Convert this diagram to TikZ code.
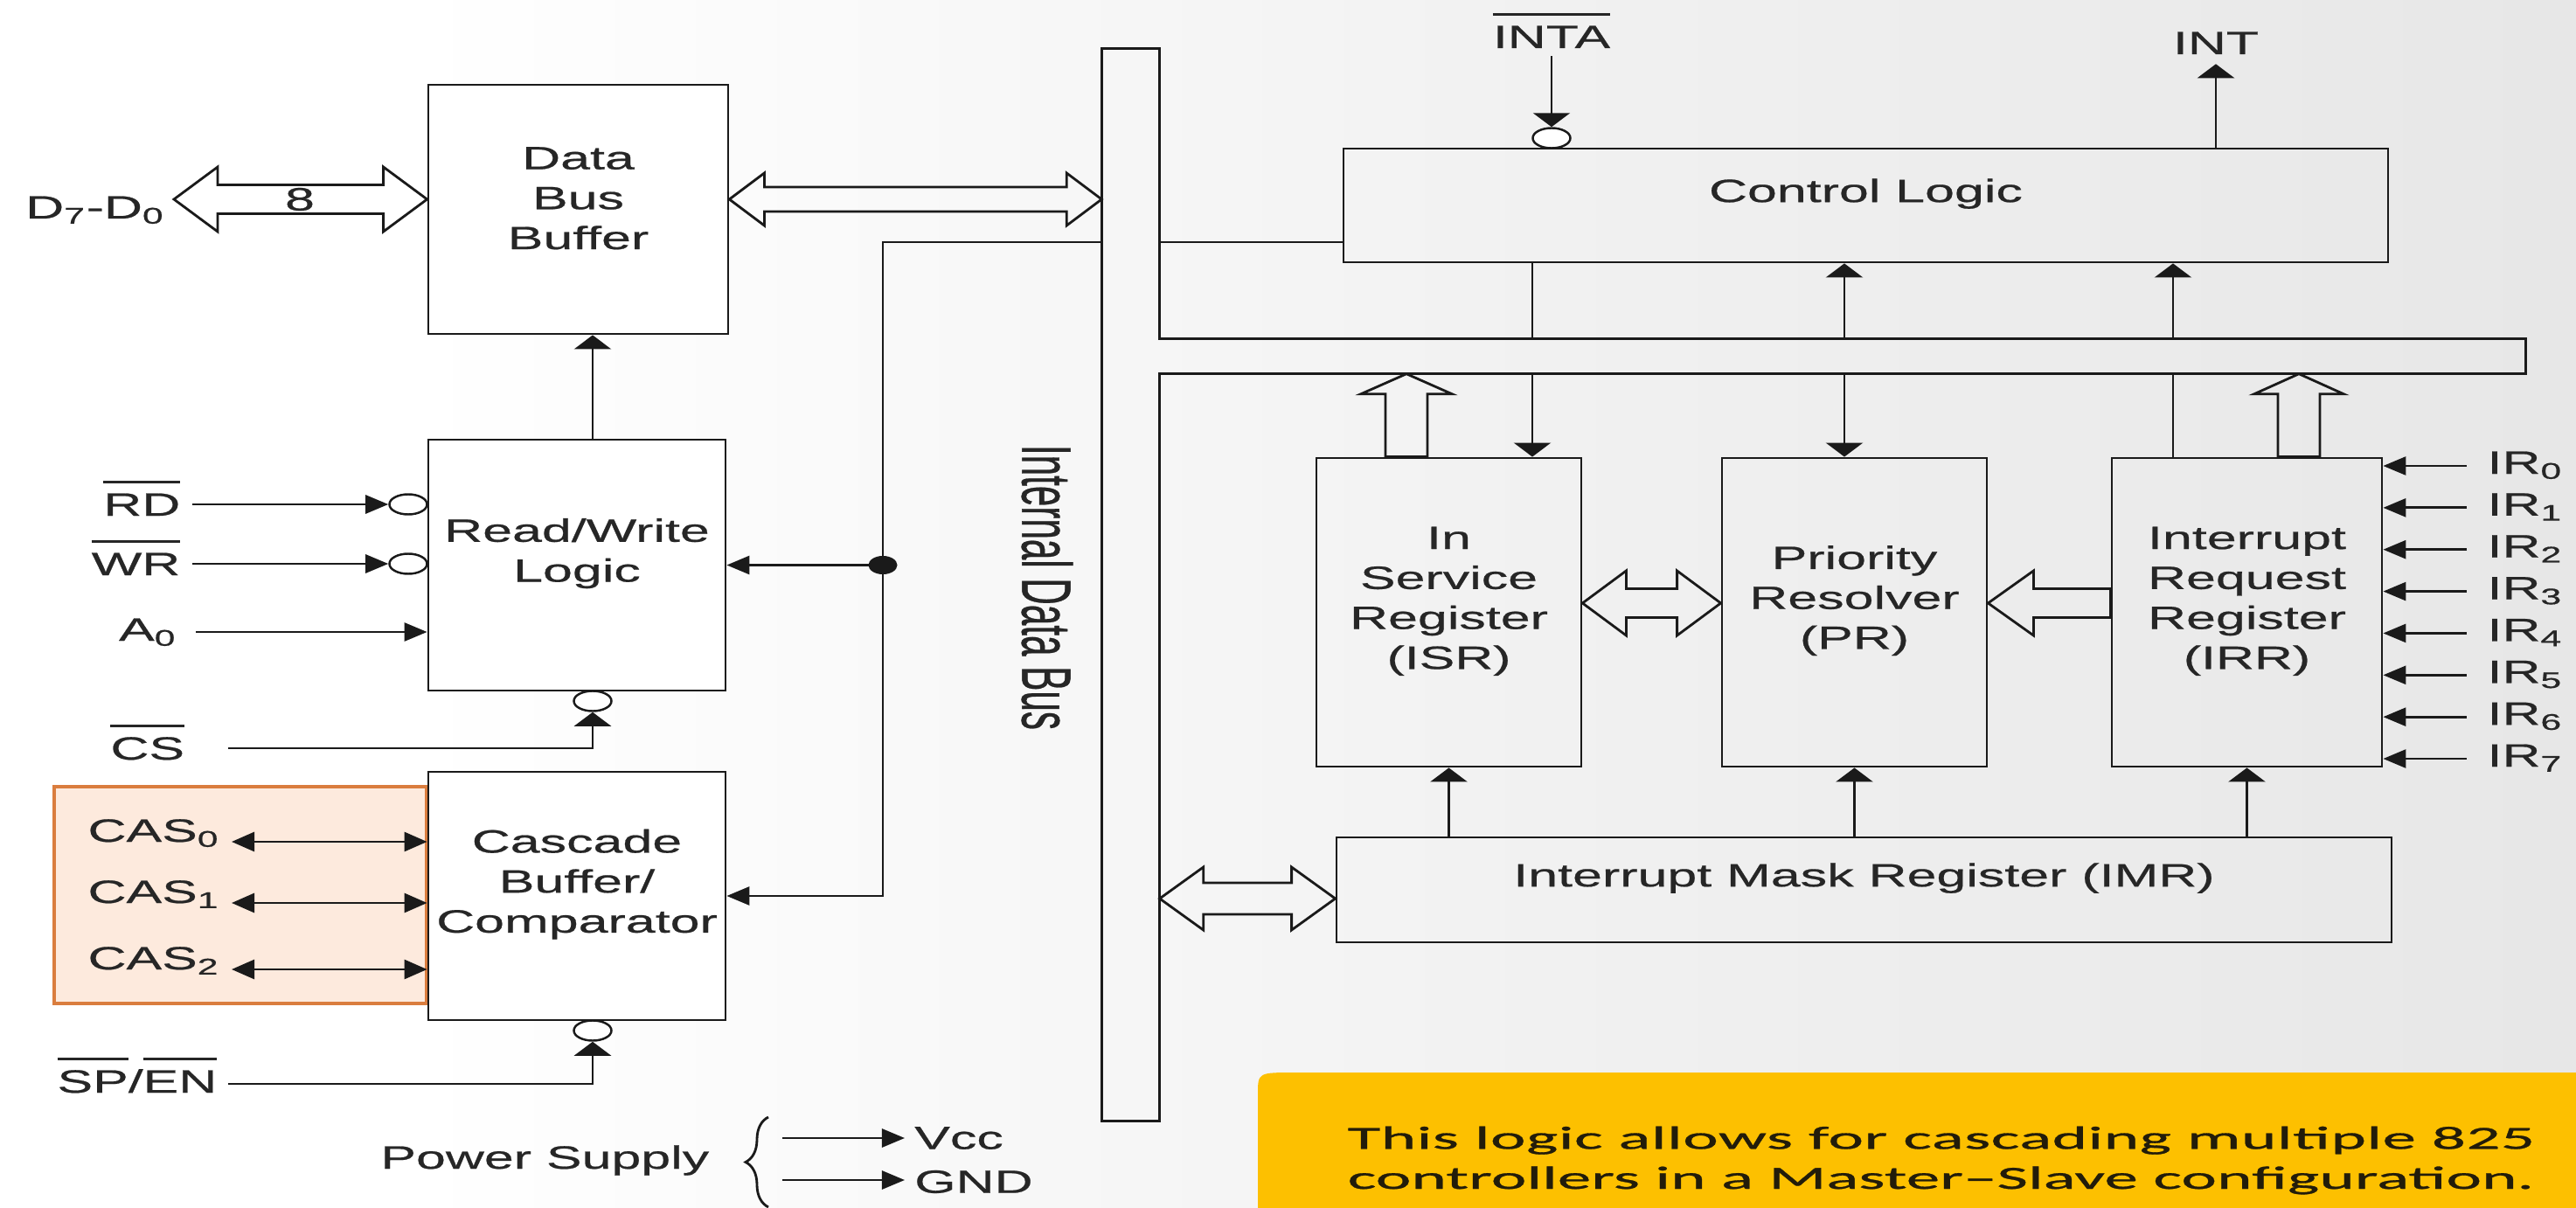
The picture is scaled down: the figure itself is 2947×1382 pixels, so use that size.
\documentclass[tikz,border=0pt]{standalone}
\usepackage{fontspec}
\usepackage{graphicx}
\setmainfont{Liberation Sans}[FakeStretch=1.65,FakeBold=0.6]
\newfontfamily\plainsans{Liberation Sans}[FakeBold=0.6]
\newfontfamily\callfont{Carlito}[FakeStretch=2.09,FakeBold=0.8]
\usetikzlibrary{arrows.meta,shapes.geometric,fit,calc,decorations.pathreplacing}
\definecolor{ln}{HTML}{1A1A1A}
\definecolor{tx}{HTML}{262626}
\definecolor{calltx}{HTML}{221C0A}
\definecolor{peach}{HTML}{FDEADD}
\definecolor{orng}{HTML}{DA7D3E}
\definecolor{gold}{HTML}{FDC000}
\definecolor{bgr}{RGB}{218,218,218}
\definecolor{bgm}{RGB}{241,241,241}
\pgfdeclarehorizontalshading{bgshade}{100bp}{color(0bp)=(white); color(33bp)=(white); color(55bp)=(bgm); color(100bp)=(bgr)}
\newcommand\ovl[1]{\setbox0=\hbox{#1}\rlap{\raisebox{\dimexpr\ht0+3.3pt\relax}{\rule{\wd0}{0.75pt}}}\box0}
\newcommand\hdbl[5]{\draw[hollow] (#1) -- ($(#1)+(#5,-#3)$) -- ($(#1)+(#5,-#4)$) -- ($(#2)+(-#5,-#4)$) -- ($(#2)+(-#5,-#3)$) -- (#2) -- ($(#2)+(-#5,#3)$) -- ($(#2)+(-#5,#4)$) -- ($(#1)+(#5,#4)$) -- ($(#1)+(#5,#3)$) -- cycle;}
\newcommand\hleft[5]{\draw[hollow] (#2) -- ($(#2)+(#5,-#3)$) -- ($(#2)+(#5,-#4)$) -- ($(#1)+(0,-#4)$) -- ($(#1)+(0,#4)$) -- ($(#2)+(#5,#4)$) -- ($(#2)+(#5,#3)$) -- cycle;}
\newcommand\hup[5]{\draw[hollow] (#2) -- ($(#2)+(#3,#5)$) -- ($(#2)+(#4,#5)$) -- ($(#1)+(#4,0)$) -- ($(#1)+(-#4,0)$) -- ($(#2)+(-#4,#5)$) -- ($(#2)+(-#3,#5)$) -- cycle;}
\tikzset{
  every node/.style={text=tx, font=\fontsize{10.5pt}{13pt}\selectfont},
  box/.style={draw=ln, line width=0.8pt, inner sep=0pt, align=center},
  wbox/.style={box, fill=white},
  bubble/.style={ellipse, draw=ln, line width=0.7pt, fill=white, minimum width=0.43cm, minimum height=0.23cm, inner sep=0pt},
  conn/.style={draw=ln, line width=0.8pt},
  harr/.style={conn, -{Triangle[length=0.26cm,width=0.21cm]}},
  varr/.style={conn, -{Triangle[length=0.16cm,width=0.42cm]}},
  hboth/.style={conn, {Triangle[length=0.26cm,width=0.22cm]}-{Triangle[length=0.26cm,width=0.22cm]}},
  hollow/.style={draw=ln, line width=0.8pt},
  lbl/.style={inner ysep=0pt},
}
\begin{document}
\begin{tikzpicture}[x=0.01cm,y=-0.01cm]
\path[use as bounding box] (0,0) rectangle (2947,1382);
\clip (0,0) rectangle (2947,1382);
\shade[shading=bgshade] (0,0) rectangle (2947,1382);

% cascade group highlight
\node[fit={(62,900) (488,1148)}, inner sep=0pt, draw=orng, line width=1.2pt, fill=peach] (casgrp) {};

% left blocks
\node[wbox, fit={(490,97) (833,382)}] (dbb) {Data\\Bus\\Buffer};
\node[wbox, fit={(490,503) (830,790)}] (rw) {Read/Write\\Logic};
\node[wbox, fit={(490,883) (830,1167)}] (cas) {Cascade\\Buffer/\\Comparator};

% right blocks
\node[box, fit={(1537,170) (2732,300)}] (ctrl) {Control Logic};
\node[box, fit={(1506,524) (1809,877)}] (isr) {In\\Service\\Register\\(ISR)};
\node[box, fit={(1970,524) (2273,877)}] (pr) {Priority\\Resolver\\(PR)};
\node[box, fit={(2416,524) (2725,877)}] (irr) {Interrupt\\Request\\Register\\(IRR)};
\node[box, fit={(1529,958) (2736,1078)}] (imr) {Interrupt Mask Register (IMR)};

% internal data bus
\node[fit={(1261,56) (1326,1282)}, inner sep=0pt] (vbus) {};
\node[fit={(1326,388) (2889,427)}, inner sep=0pt] (hbus) {};
\draw[conn] (vbus.north west) -- (vbus.north east) -- (vbus.east |- hbus.north) -- (hbus.north east) -- (hbus.south east) -- (vbus.east |- hbus.south) -- (vbus.south east) -- (vbus.south west) -- cycle;
\node (idb) at (1198,672) {\scalebox{1.9}[1]{\rotatebox{-90}{\plainsans\fontsize{12pt}{14pt}\selectfont Internal Data Bus}}};

% helper coordinates
\coordinate (yctl) at (0,277);
\coordinate (yd) at (0,228);
\coordinate (yp) at (0,690);
\coordinate (yi) at (0,1028);
\coordinate (ya0) at (0,723);
\coordinate (ycs) at (0,856);
\coordinate (ysp) at (0,1240);
\coordinate (xrw) at (678,0);
\coordinate (xa) at (1753,0);
\coordinate (xb) at (2110,0);
\coordinate (xc) at (2486,0);
\coordinate (xh1) at (1609,0);
\coordinate (xh2) at (2630,0);

% signal line from bus to R/W and cascade
\node[ellipse, fill=ln, minimum width=0.33cm, minimum height=0.21cm, inner sep=0pt] (dot) at (1010,646.5) {};
\draw[conn] (vbus.west |- yctl) -| (dot.center);
\draw[harr] (dot.center) -- (rw.east);
\draw[harr] (dot.center) |- (cas.east);
\draw[conn] (vbus.east |- yctl) -- (ctrl.west |- yctl);
\draw[varr] (rw.north -| xrw) -- (dbb.south -| xrw);

% bubbles
\node[bubble] (bcs) at (678,802) {};
\node[bubble] (bsp) at (678,1179) {};
\node[bubble] (brd) at (467,577) {};
\node[bubble] (bwr) at (467,645) {};
\node[bubble] (binta) at (1775,158) {};

% left labels
\node[lbl, anchor=base east, inner xsep=2.8pt] (d70) at (199,250) {D\textsubscript{7}-D\textsubscript{0}};
\node[lbl, anchor=base east, inner xsep=3.7pt] (rd) at (220,590) {\ovl{RD}};
\node[lbl, anchor=base east, inner xsep=3.7pt] (wr) at (220,658) {\ovl{WR}};
\node[lbl, anchor=base east, inner xsep=6pt] (a0) at (224,733) {A\textsubscript{0}};
\node[lbl, anchor=base east, inner xsep=14pt] (cs) at (261,869) {\ovl{CS}};
\node[lbl, anchor=base east, inner xsep=3.4pt] (spen) at (261,1250) {\ovl{SP}/\ovl{EN}};
\node[lbl, anchor=base east, inner xsep=3.7pt] (cas0) at (265,963) {CAS\textsubscript{0}};
\node[lbl, anchor=base east, inner xsep=3.7pt] (cas1) at (265,1033) {CAS\textsubscript{1}};
\node[lbl, anchor=base east, inner xsep=3.7pt] (cas2) at (265,1109) {CAS\textsubscript{2}};

\draw[harr] (rd.east |- brd) -- (brd.west);
\draw[harr] (wr.east |- bwr) -- (bwr.west);
\draw[harr] (a0.east |- ya0) -- (rw.west |- ya0);
\draw[varr] (cs.east |- ycs) -| (bcs.south);
\draw[varr] (spen.east |- ysp) -| (bsp.south);
\draw[hboth] (cas0.east |- cas0.base) -- (cas.west |- cas0.base);
\draw[hboth] (cas1.east |- cas1.base) -- (cas.west |- cas1.base);
\draw[hboth] (cas2.east |- cas2.base) -- (cas.west |- cas2.base);

% hollow bus arrows
\coordinate (d7a) at (d70.east |- yd);
\coordinate (d7b) at (dbb.west |- yd);
\hdbl{d7a}{d7b}{37}{16.5}{50}
\node (eight) at (343,228) {8};
\coordinate (dba) at (dbb.east |- yd);
\coordinate (dbbus) at (vbus.west |- yd);
\hdbl{dba}{dbbus}{30}{14}{40}
\coordinate (ispa) at (isr.east |- yp);
\coordinate (ispb) at (pr.west |- yp);
\hdbl{ispa}{ispb}{37}{16.5}{50}
\coordinate (irpa) at (irr.west |- yp);
\coordinate (irpb) at (pr.east |- yp);
\hleft{irpa}{irpb}{37}{16.5}{52}
\coordinate (imra) at (vbus.east |- yi);
\coordinate (imrb) at (imr.west |- yi);
\hdbl{imra}{imrb}{36}{18}{50}
\coordinate (isrt) at (isr.north -| xh1);
\coordinate (isrh) at (hbus.south -| xh1);
\hup{isrt}{isrh}{52}{24}{23}
\coordinate (irrt) at (irr.north -| xh2);
\coordinate (irrh) at (hbus.south -| xh2);
\hup{irrt}{irrh}{51}{24}{23}

% control lines
\draw[conn] (ctrl.south -| xa) -- (hbus.north -| xa);
\draw[varr] (hbus.south -| xa) -- (isr.north -| xa);
\draw[varr] (hbus.north -| xb) -- (ctrl.south -| xb);
\draw[varr] (hbus.south -| xb) -- (pr.north -| xb);
\draw[varr] (hbus.north -| xc) -- (ctrl.south -| xc);
\draw[conn] (irr.north -| xc) -- (hbus.south -| xc);

% IMR to registers
\draw[varr] (imr.north -| isr.south) -- (isr.south);
\draw[varr] (imr.north -| pr.south) -- (pr.south);
\draw[varr] (imr.north -| irr.south) -- (irr.south);

% INTA / INT
\node[anchor=base, inner sep=2.5pt] (inta) at (1775,55) {\ovl{INTA}};
\draw[varr] (inta.south) -- (binta.north);
\node[anchor=base, inner sep=3pt] (int) at (2535,62) {INT};
\draw[varr] (ctrl.north -| int.south) -- (int.south);

% IR inputs
\foreach \k in {0,...,7} {
  \pgfmathsetmacro\yy{533+47.86*\k}
  \coordinate (iry\k) at (0,\yy);
  \node[lbl, anchor=base west, inner xsep=6.5pt] (ir\k) at (2822,\yy+9) {IR\textsubscript{\k}};
  \draw[harr] (ir\k.west |- iry\k) -- (irr.east |- iry\k);
}

% power supply
\node[lbl, anchor=base east, inner xsep=0pt] (ps) at (812,1337) {Power Supply};
\coordinate (br1) at (879,1381);
\coordinate (br2) at (879,1278);
\draw[conn, decorate, decoration={brace, amplitude=0.26cm}] (br1) -- (br2);
\node[anchor=west, inner xsep=3pt] (vcc) at (1035,1302) {Vcc};
\node[anchor=west, inner xsep=3pt] (gnd) at (1035,1352) {GND};
\coordinate (pv) at (895,1302);
\coordinate (pg) at (895,1350);
\draw[harr] (pv) -- (vcc.west);
\draw[harr] (pg) -- (gnd.west |- pg);

% callout
\fill[gold] (1439,1420) -- (1439,1252) .. controls (1439,1227) .. (1482,1227) -- (2970,1227) -- (2970,1420) -- cycle;
\node[anchor=north west, align=left, inner sep=0pt, text=calltx, font=\callfont\fontsize{10.5pt}{13pt}\selectfont] (note) at (1541,1288) {{\addfontfeature{LetterSpace=1.2}This logic allows for cascading multiple 825}\\controllers in a Master–Slave configuration.};
\end{tikzpicture}
\end{document}
